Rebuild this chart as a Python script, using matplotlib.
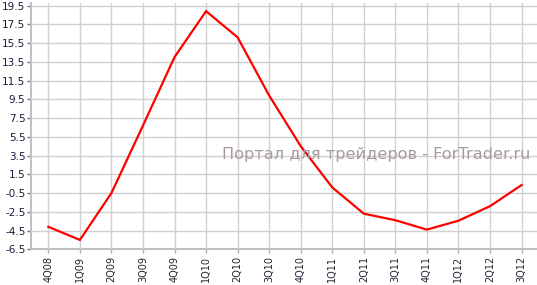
import matplotlib
matplotlib.use("Agg")
import matplotlib.pyplot as plt
import numpy as np

quarters = ['4Q08', '1Q09', '2Q09', '3Q09', '4Q09', '1Q10', '2Q10', '3Q10',
            '4Q10', '1Q11', '2Q11', '3Q11', '4Q11', '1Q12', '2Q12', '3Q12']
values = [-4.1, -5.5, -0.5, 6.7, 14.0, 18.9, 16.1, 9.9,
          4.5, 0.1, -2.7, -3.4, -4.4, -3.45, -1.9, 0.35]
y_ticks = [-6.5, -4.5, -2.5, -0.5, 1.5, 3.5, 5.5, 7.5, 9.5,
           11.5, 13.5, 15.5, 17.5, 19.5]
watermark = "Портал для трейдеров - ForTrader.ru"

fig = plt.figure(figsize=(5.37, 2.85), dpi=100)
ax = fig.add_axes([31 / 537, 1 - 249.3 / 285, 506 / 537, 246.3 / 285])

x = np.arange(len(quarters))
ax.plot(x, values, color='#ff0000', lw=1.6, zorder=3, solid_joinstyle='miter')

ax.set_xlim(-0.55, len(quarters) - 1 + 0.49)
ax.set_ylim(-6.5, 19.77)
ax.set_xticks(x)
ax.set_xticklabels(quarters, rotation=90, fontsize=7, color='#222233')
ax.set_yticks(y_ticks)
ax.set_yticklabels([f"{t:.1f}" for t in y_ticks], fontsize=7.5, color='#1a1a3a')

ax.grid(True, color='#d0d0d0', lw=1.0, zorder=0)
ax.tick_params(axis='x', length=3, width=1, color='#b0b0b0', pad=2)
ax.tick_params(axis='y', length=3, width=1, color='#707070', pad=1)
for side in ['top', 'right']:
    ax.spines[side].set_visible(False)
for side in ['left', 'bottom']:
    ax.spines[side].set_color('#c0c0c0')
    ax.spines[side].set_linewidth(1.5)

fig.text(530 / 537, 1 - 154 / 285, watermark, ha='right', va='center',
         fontsize=11.6, color='#a89a9a', zorder=5)

fig.savefig("out.png", dpi=100)
